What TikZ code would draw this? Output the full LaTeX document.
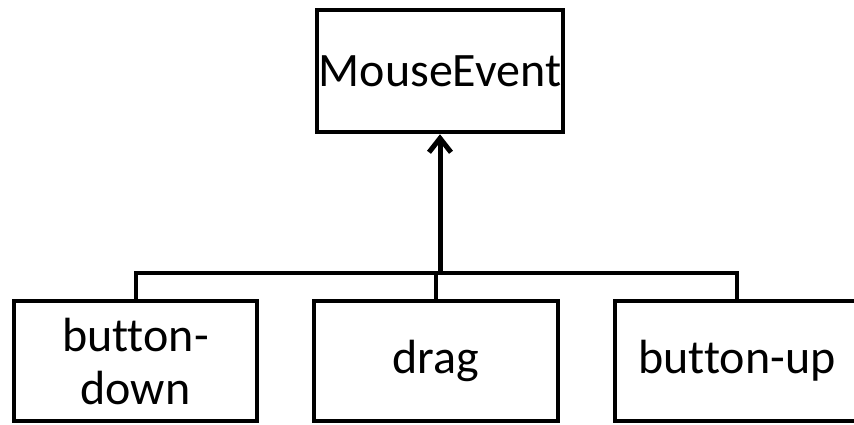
\documentclass[tikz,border=0pt]{standalone}
\usepackage{fontspec}
\setmainfont{Carlito}[Ligatures=NoCommon]
\usetikzlibrary{arrows.meta}
\begin{document}
\begin{tikzpicture}[x=1pt,y=-1pt]
                \tikzstyle{box}=[draw=black, line width=4.5pt, inner sep=0pt, font=\fontsize{48}{53}\selectfont, text=black, align=center, minimum height=120pt]
                \tikzstyle{link}=[black, line width=4pt]
                \tikzstyle{inherit}=[black, line width=5pt, -{Straight Barb[length=14pt, width=22pt]}]
                \useasboundingbox (0,0) rectangle (854,424);

                \node[box, minimum width=246pt, minimum height=122pt] (mouse) at (440,71) {MouseEvent};
                \node[box, minimum width=243pt] (down) at (135.5,361) {button-\\down};
                \node[box, minimum width=244pt] (drag) at (436,361) {drag};
                \node[box, minimum width=244pt] (up) at (737,361) {button-up};

                \coordinate (fork) at (436,273);

                \draw[link] (down.north) |- (fork) -| (up.north);
                \draw[link] (fork) -- (drag.north);
                \draw[inherit] (mouse.south |- fork) -- (mouse.south);
            \end{tikzpicture}
\end{document}
